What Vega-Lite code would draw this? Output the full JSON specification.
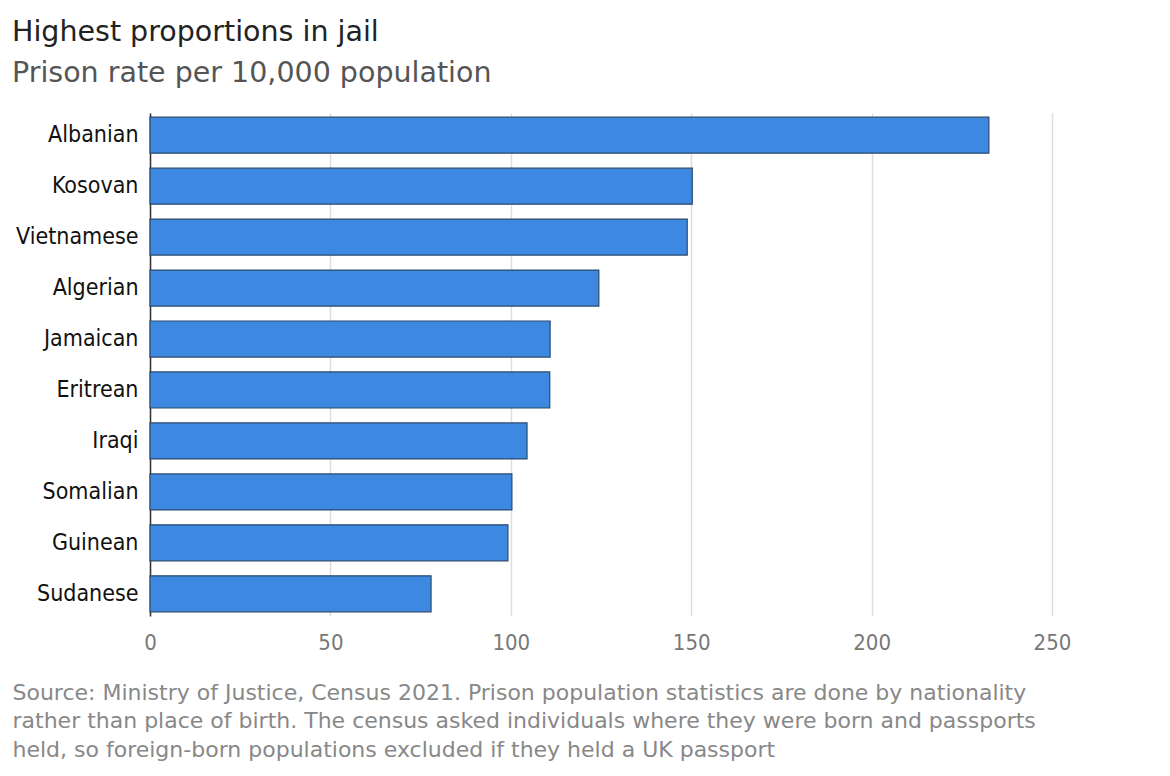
{
  "$schema": "https://vega.github.io/schema/vega-lite/v6.json",
  "autosize": {"type": "none"},
  "width": 902,
  "height": 503,
  "padding": {"left": 150, "top": 113, "right": 118, "bottom": 160},
  "background": "white",
  "title": {
    "text": "Highest proportions in jail",
    "subtitle": "Prison rate per 10,000 population",
    "anchor": "start",
    "frame": "group",
    "dx": -138,
    "font": "DejaVu Sans",
    "fontSize": 28.5,
    "fontWeight": "normal",
    "color": "#222222",
    "subtitleFont": "DejaVu Sans",
    "subtitleFontSize": 28.5,
    "subtitleColor": "#555555",
    "subtitlePadding": 12,
    "offset": 26
  },
  "data": {
    "values": [
      {"nationality": "Albanian", "rate": 232.5},
      {"nationality": "Kosovan", "rate": 150.3},
      {"nationality": "Vietnamese", "rate": 148.9},
      {"nationality": "Algerian", "rate": 124.4},
      {"nationality": "Jamaican", "rate": 110.9},
      {"nationality": "Eritrean", "rate": 110.8},
      {"nationality": "Iraqi", "rate": 104.5},
      {"nationality": "Somalian", "rate": 100.3},
      {"nationality": "Guinean", "rate": 99.2},
      {"nationality": "Sudanese", "rate": 77.9}
    ]
  },
  "mark": {"type": "bar", "fill": "#3d88e0", "stroke": "#2b4a6e", "strokeWidth": 1.2},
  "encoding": {
    "y": {
      "field": "nationality",
      "type": "nominal",
      "sort": null,
      "scale": {"paddingInner": 0.293, "paddingOuter": 0.082},
      "axis": {
        "title": null,
        "ticks": false,
        "domain": true,
        "domainColor": "#333333",
        "domainWidth": 1.5,
        "labelFont": "DejaVu Sans Condensed",
        "labelFontSize": 23,
        "labelColor": "#111111",
        "labelPadding": 12
      }
    },
    "x": {
      "field": "rate",
      "type": "quantitative",
      "scale": {"domain": [0, 250], "nice": false},
      "axis": {
        "values": [0, 50, 100, 150, 200, 250],
        "domain": false,
        "ticks": false,
        "grid": true,
        "gridColor": "#dddddd",
        "gridWidth": 1.5,
        "labelFlush": false,
        "labelFont": "DejaVu Sans Condensed",
        "labelFontSize": 22,
        "labelColor": "#777777",
        "labelPadding": 16,
        "title": [
          "Source: Ministry of Justice, Census 2021. Prison population statistics are done by nationality",
          "rather than place of birth. The census asked individuals where they were born and passports",
          "held, so foreign-born populations excluded if they held a UK passport"
        ],
        "titleFont": "DejaVu Sans",
        "titleFontSize": 22,
        "titleFontWeight": "normal",
        "titleColor": "#888888",
        "titleAlign": "left",
        "titleBaseline": "alphabetic",
        "titleAnchor": "start",
        "titleX": -138,
        "titleY": 83,
        "titleLineHeight": 28.5
      }
    }
  },
  "config": {"view": {"stroke": null}}
}
